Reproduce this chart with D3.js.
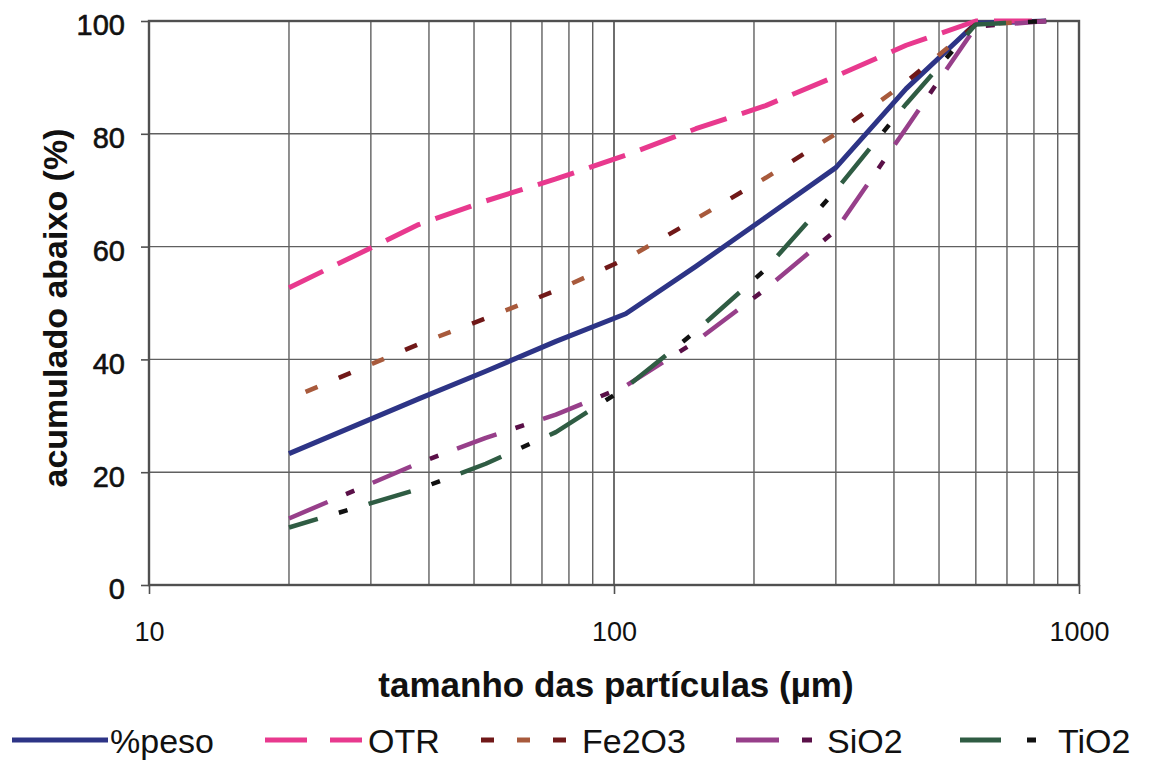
<!DOCTYPE html>
<html>
<head>
<meta charset="utf-8">
<script src="https://cdn.jsdelivr.net/npm/d3@7"></script>
<style>
  html, body { margin: 0; padding: 0; background: #fff; }
  svg { display: block; }
  text { font-family: "Liberation Sans", Arial, sans-serif; fill: #111; }
</style>
</head>
<body>
<svg id="chart" width="1155" height="763"></svg>
<script>
// ---------- data ----------
const sizes = [20, 38, 53, 75, 106, 150, 212, 300, 425, 600, 850];
const peso  = [23.3, 33.0, 37.9, 43.2, 48.1, 56.5, 65.2, 74.0, 88.0, 99.6, 100];
const otr   = [52.7, 63.9, 68.1, 72.0, 76.2, 80.9, 85.0, 90.2, 95.7, 100, 100];
const fe2o3 = [33.0, 42.7, 47.3, 52.2, 57.8, 64.9, 72.2, 80.0, 89.2, 99.4, 100];
const sio2  = [11.8, 21.6, 26.1, 30.2, 35.3, 43.2, 52.5, 62.9, 81.0, 99.0, 100];
const tio2  = [10.2, 17.0, 21.5, 27.1, 35.0, 45.0, 56.0, 70.0, 85.3, 99.4, 100];
const seriesNames = ["%peso", "OTR", "Fe2O3", "SiO2", "TiO2"];
const yTicks = [0, 20, 40, 60, 80, 100];
const xTicks = [10, 100, 1000];
const xTitle = "tamanho das partículas (µm)";
const yTitle = "acumulado abaixo (%)";

// ---------- layout ----------
const L = 149, R = 1079, T = 21, B = 585;
const svg = d3.select("#chart");
const x = d3.scaleLog().domain([10, 1000]).range([L, R]);
const y = d3.scaleLinear().domain([0, 100]).range([B, T]);

// grid
const minor = [];
for (let d = 10; d < 1000; d *= 10) for (let k = 1; k <= 10; k++) minor.push(d * k);
const grid = svg.append("g");
grid.selectAll("line.v").data(minor.filter(v => v > 10 && v < 1000)).join("line")
  .attr("x1", d => x(d)).attr("x2", d => x(d)).attr("y1", T).attr("y2", B)
  .attr("stroke", "#606060").attr("stroke-width", 1.4);
grid.selectAll("line.h").data(yTicks.filter(v => v > 0 && v < 100)).join("line")
  .attr("x1", L).attr("x2", R).attr("y1", d => y(d)).attr("y2", d => y(d))
  .attr("stroke", "#606060").attr("stroke-width", 1.4);

// frame
svg.append("rect").attr("x", L).attr("y", T).attr("width", R - L).attr("height", B - T)
  .attr("fill", "none").attr("stroke", "#505050").attr("stroke-width", 2.4);

const fontFam = "'Liberation Sans', Arial, sans-serif";

// axes
const yAxis = d3.axisLeft(y).tickValues(yTicks).tickSize(8).tickPadding(16).tickFormat(d3.format("d"));
const gy = svg.append("g").attr("transform", `translate(${L},0)`).call(yAxis);
gy.select(".domain").remove();
gy.selectAll(".tick line").attr("stroke", "#505050").attr("stroke-width", 1.6);
gy.selectAll(".tick text").attr("font-size", 29).attr("dy", "0.48em")
  .style("font-family", fontFam).attr("fill", "#111")
  .attr("stroke", "#111").attr("stroke-width", 0.6);

const xAxis = d3.axisBottom(x).tickValues(xTicks).tickSize(9).tickPadding(28).tickFormat(d3.format("d"));
const gx = svg.append("g").attr("transform", `translate(0,${B})`).call(xAxis);
gx.select(".domain").remove();
gx.selectAll(".tick line").attr("stroke", "#505050").attr("stroke-width", 1.6);
gx.selectAll(".tick text").attr("font-size", 27)
  .style("font-family", fontFam).attr("fill", "#111");

// titles
svg.append("text").attr("x", (L + R) / 2 + 2).attr("y", 697).attr("text-anchor", "middle")
  .attr("font-size", 35).attr("font-weight", "bold").text(xTitle);
svg.append("text").attr("transform", `translate(67,${(T + B) / 2 + 5}) rotate(-90)`)
  .attr("text-anchor", "middle").attr("font-size", 34).attr("font-weight", "bold").text(yTitle);

// ---------- series ----------
const line = d3.line().x(d => x(d[0])).y(d => y(d[1]));
const pts = arr => sizes.map((s, i) => [s, arr[i]]);

const styles = [
  { data: peso, width: 5, layers: [{ c: "#2d3486", dash: null }] },
  { data: otr, width: 5, layers: [{ c: "#e8398e", dash: "38,16" }] },
  { data: fe2o3, width: 4.5, layers: [
      { c: "#a85a3c", dash: "13,59", off: 54 },
      { c: "#701818", dash: "0,36,13,23", off: 54 }] },
  { data: sio2, width: 4.5, layers: [
      { c: "#973f8a", dash: "42,49", off: 0 },
      { c: "#5a1048", dash: "0,62,9,20", off: 0 }] },
  { data: tio2, width: 4.5, layers: [
      { c: "#2f5c43", dash: "44,53", off: 14 },
      { c: "#111111", dash: "0,66,9,22", off: 14 }] }
];

const plot = svg.append("g");
styles.forEach(s => {
  s.layers.forEach(l => {
    const p = plot.append("path").datum(pts(s.data)).attr("d", line)
      .attr("fill", "none").attr("stroke", l.c).attr("stroke-width", s.width)
      .attr("stroke-linejoin", "round");
    if (l.dash) p.attr("stroke-dasharray", l.dash).attr("stroke-dashoffset", l.off || 0);
  });
});

// ---------- legend ----------
const legY = 740, legTextY = 753;
const leg = [
  { x1: 12, x2: 108, tx: 110 },
  { x1: 265, x2: 362, tx: 368 },
  { x1: 481, x2: 566, tx: 582 },
  { x1: 736, x2: 812, tx: 827 },
  { x1: 960, x2: 1036, tx: 1058 }
];
const legDash = [
  [{ c: "#2d3486", dash: null }],
  [{ c: "#e8398e", dash: "42,23" }],
  [{ c: "#701818", dash: "13,23,0,36", off: 0 }, { c: "#a85a3c", dash: "0,36,13,23", off: 0 }],
  [{ c: "#973f8a", dash: "43,100" }, { c: "#5a1048", dash: "0,66,10,100" }],
  [{ c: "#2f5c43", dash: "41,100" }, { c: "#111111", dash: "0,67,9,100" }]
];
const lg = svg.append("g");
leg.forEach((it, i) => {
  legDash[i].forEach(l => {
    const ln = lg.append("line").attr("x1", it.x1).attr("x2", it.x2).attr("y1", legY).attr("y2", legY)
      .attr("stroke", l.c).attr("stroke-width", 5);
    if (l.dash) ln.attr("stroke-dasharray", l.dash);
  });
  lg.append("text").attr("x", it.tx).attr("y", legTextY).attr("font-size", 34).text(seriesNames[i]);
});
</script>
</body>
</html>
